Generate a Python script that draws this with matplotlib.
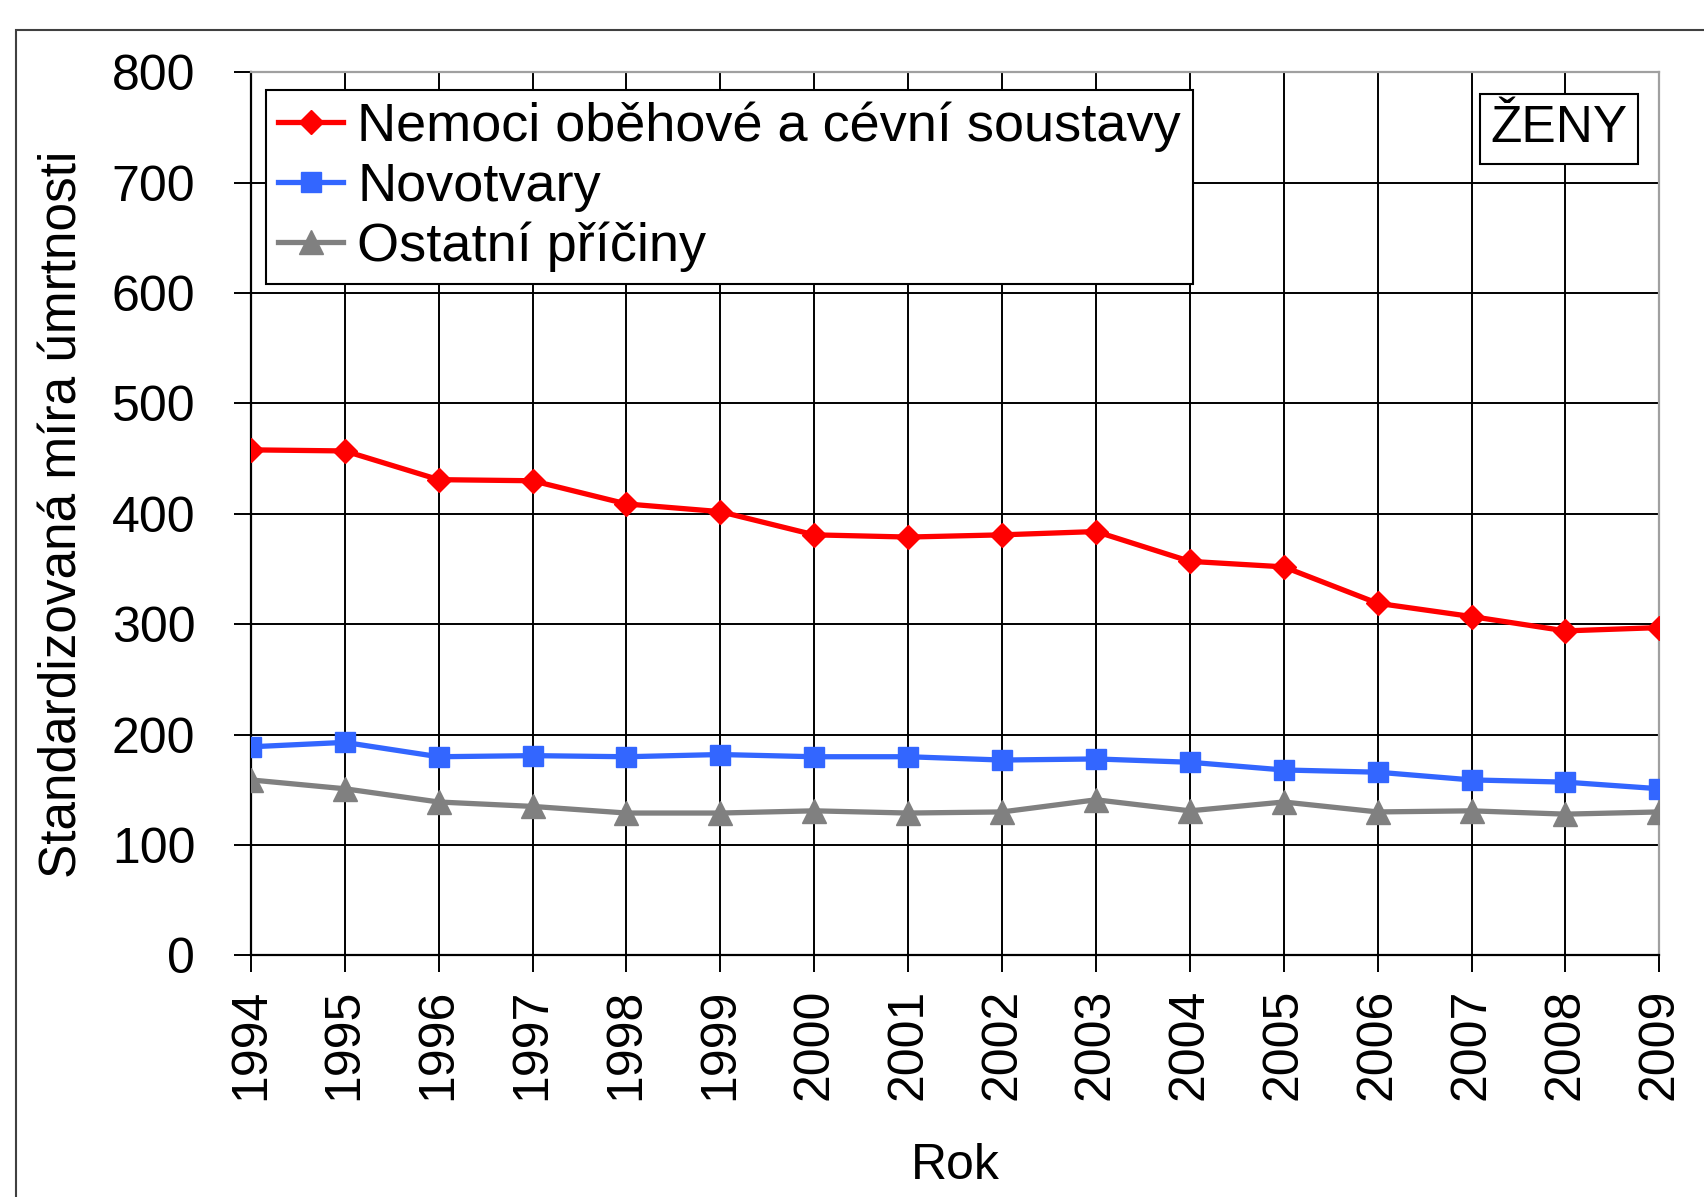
import matplotlib
matplotlib.use('Agg')
import matplotlib.pyplot as plt
from matplotlib.patches import Rectangle

# Data (standardized mortality rate, women)
years = [1994, 1995, 1996, 1997, 1998, 1999, 2000, 2001,
         2002, 2003, 2004, 2005, 2006, 2007, 2008, 2009]
circulatory = [458, 457, 431, 430, 409, 402, 381, 379,
               381, 384, 357, 352, 319, 307, 294, 297]
neoplasms = [189, 193, 180, 181, 180, 182, 180, 180,
             177, 178, 175, 168, 166, 159, 157, 151]
other_causes = [159, 151, 139, 135, 129, 129, 131, 129,
                130, 141, 131, 139, 130, 131, 128, 130]

series_labels = ['Nemoci oběhové a cévní soustavy', 'Novotvary', 'Ostatní příčiny']
y_ticks = [0, 100, 200, 300, 400, 500, 600, 700, 800]

plt.rcParams['font.family'] = ['Liberation Sans', 'DejaVu Sans']
FONT_SIZE = 36


def plot_mortality():
    fig = plt.figure(figsize=(17.04, 11.97), dpi=100)
    ax = fig.add_axes([0.1472, 0.2018, 0.8266, 0.7378])

    # Outer chart border (cut off on the right and bottom like the original)
    border = Rectangle((16 / 1704, -0.05), 1.2, 1 - 30 / 1197 + 0.05,
                       transform=fig.transFigure, fill=False,
                       edgecolor='#404040', linewidth=1.5, zorder=0)
    fig.patches.append(border)

    ax.plot(years, circulatory, color='#ff0000', linewidth=3.8,
            marker='D', markersize=12.5, label=series_labels[0], zorder=4)
    ax.plot(years, neoplasms, color='#3366ff', linewidth=3.8,
            marker='s', markersize=14, label=series_labels[1], zorder=4)
    ax.plot(years, other_causes, color='#808080', linewidth=3.8,
            marker='^', markersize=17.5, label=series_labels[2], zorder=4)

    # Axis limits and ticks
    ax.set_xlim(years[0], years[-1])
    ax.set_ylim(y_ticks[0], y_ticks[-1])
    ax.set_xticks(years)
    ax.set_xticklabels([str(y) for y in years], rotation=90)
    ax.set_yticks(y_ticks)
    ax.tick_params(axis='both', direction='out', length=12, width=1.4,
                   labelsize=FONT_SIZE, color='black')
    ax.tick_params(axis='x', pad=12)
    ax.tick_params(axis='y', pad=28)

    # Grid, black like the original
    ax.set_axisbelow(True)
    ax.grid(True, color='black', linewidth=1.4)
    ax.xaxis.get_gridlines()[-1].set_visible(False)
    ax.yaxis.get_gridlines()[-1].set_visible(False)

    for side in ['left', 'bottom']:
        ax.spines[side].set_color('black')
        ax.spines[side].set_linewidth(1.6)
    for side in ['top', 'right']:
        ax.spines[side].set_color('#a0a0a0')
        ax.spines[side].set_linewidth(1.6)

    # Axis labels
    ax.set_xlabel('Rok', fontsize=FONT_SIZE)
    ax.xaxis.set_label_coords(0.5, -0.212)
    ax.set_ylabel('Standardizovaná míra úmrtnosti', fontsize=37)
    ax.yaxis.set_label_coords(-0.116, 0.5)

    # Legend
    leg = ax.legend(loc='upper left', bbox_to_anchor=(0.011, 0.98),
                    borderaxespad=0, fontsize=39, fancybox=False,
                    framealpha=1, edgecolor='black', handlelength=1.2,
                    handletextpad=0.26, labelspacing=0.18, borderpad=0.22,
                    markerscale=1.0)
    leg.get_frame().set_linewidth(1.5)
    leg.set_zorder(5)

    # ŽENY box
    ax.text(0.9286, 0.936, 'ŽENY', transform=ax.transAxes, fontsize=37,
            ha='center', va='center', zorder=5,
            bbox=dict(boxstyle='square,pad=0.2', facecolor='white',
                      edgecolor='black', linewidth=1.5))

    return fig


def main():
    fig = plot_mortality()
    fig.savefig('out.png', dpi=100)


if __name__ == "__main__":
    main()
